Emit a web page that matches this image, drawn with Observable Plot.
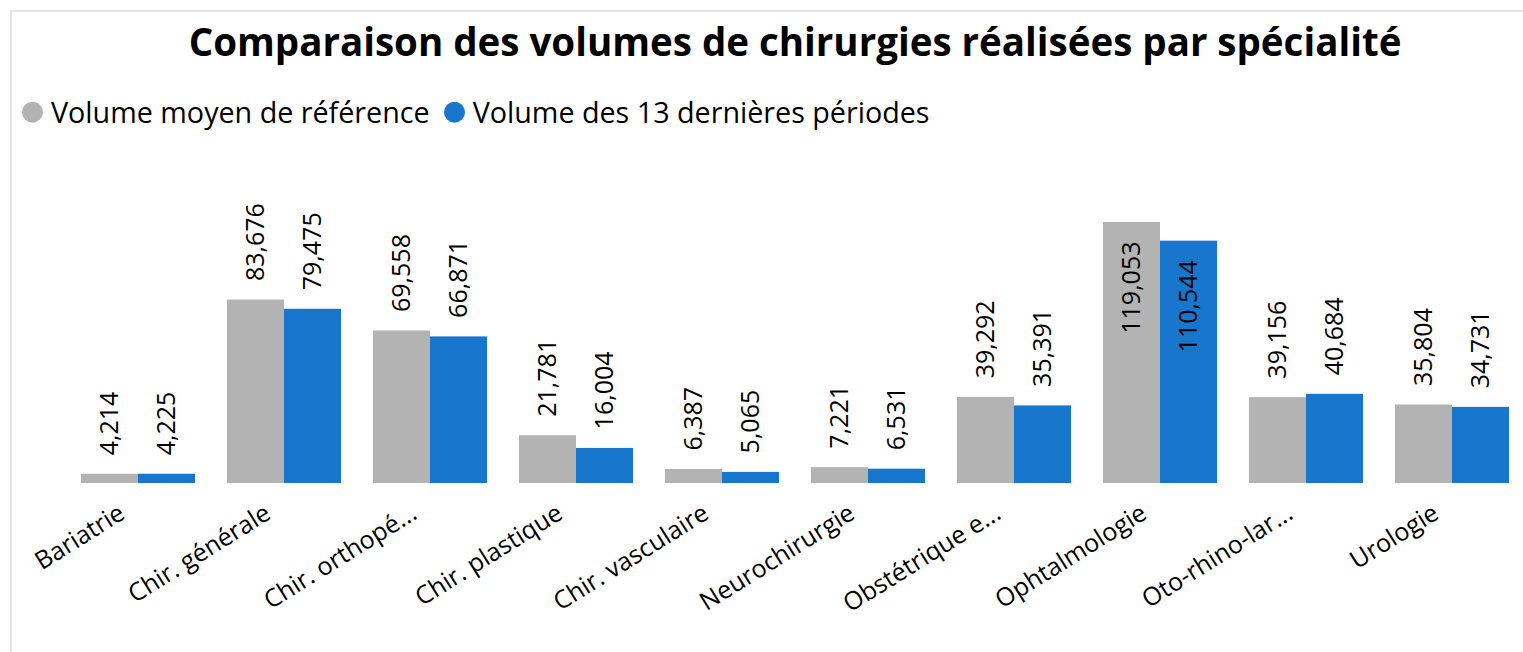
<!DOCTYPE html>
<html><head><meta charset="utf-8">
<script src="https://cdn.jsdelivr.net/npm/d3@7"></script>
<script src="https://cdn.jsdelivr.net/npm/@observablehq/plot@0.6"></script>
<style>
body{margin:0;width:1523px;height:652px;overflow:hidden;background:#fff;font-family:"Open Sans",sans-serif;position:relative;}
#frame{position:absolute;left:10px;top:10px;width:1513px;height:642px;border-left:2px solid #e6e6e6;border-top:2px solid #e6e6e6;box-sizing:border-box;}
#title{position:absolute;top:42px;left:0;width:1590px;text-align:center;font-weight:bold;font-size:38.5px;line-height:1;color:#000;white-space:nowrap;transform:translateY(-52%);}
#legend{position:absolute;top:112px;left:22px;display:flex;align-items:center;font-size:28.7px;line-height:1;color:#000;white-space:nowrap;transform:translateY(-50%);}
.item{display:flex;align-items:center;margin-right:14px;}
.sw{display:inline-block;width:21px;height:21px;border-radius:50%;margin-right:8px;}
#chart{position:absolute;left:0;top:0;}
</style></head>
<body>
<div id="frame"></div>
<div id="chart"></div>
<div id="title"></div>
<div id="legend"></div>
<script>
const title = "Comparaison des volumes de chirurgies réalisées par spécialité";
const categories = ["Bariatrie","Chir. générale","Chir. orthopé...","Chir. plastique","Chir. vasculaire","Neurochirurgie","Obstétrique e...","Ophtalmologie","Oto-rhino-lar...","Urologie"];
const series = ["Volume moyen de référence","Volume des 13 dernières périodes"];
const reference = [4214,83676,69558,21781,6387,7221,39292,119053,39156,35804];
const recent = [4225,79475,66871,16004,5065,6531,35391,110544,40684,34731];
const colors = ["#b3b3b3","#1877cc"];

const data = categories.flatMap((c,i)=>[
  {category:c, series:series[0], value:reference[i]},
  {category:c, series:series[1], value:recent[i]}
]);
const maxV = d3.max(data, d=>d.value);
const fmt = d3.format(",");
const inside = d => d.value > 0.85*maxV;

document.getElementById("title").textContent = title;
const legend = document.getElementById("legend");
series.forEach((s,i)=>{
  const it = document.createElement("div"); it.className="item";
  const sw = document.createElement("span"); sw.className="sw"; sw.style.background=colors[i];
  const tx = document.createElement("span"); tx.textContent=s;
  it.appendChild(sw); it.appendChild(tx); legend.appendChild(it);
});

const chart = Plot.plot({
  width:1523, height:652,
  marginTop:222, marginBottom:169, marginLeft:80, marginRight:14,
  style:{fontFamily:"Open Sans", fontSize:"22px", background:"transparent", color:"#000"},
  fx:{domain:categories, paddingInner:0.22, paddingOuter:0, axis:null, label:null},
  x:{domain:series, padding:0, axis:null},
  y:{domain:[0,maxV], axis:null},
  color:{domain:series, range:colors},
  marks:[
    Plot.barY(data,{fx:"category", x:"series", y:"value", fill:"series"}),
    Plot.text(data.filter(d=>!inside(d)),{fx:"category", x:"series", y:"value", text:d=>fmt(d.value), rotate:-90, textAnchor:"start", dy:-19, fontSize:25, fill:"#000"}),
    Plot.text(data.filter(inside),{fx:"category", x:"series", y:"value", text:d=>fmt(d.value), rotate:-90, textAnchor:"end", dy:19, fontSize:25, fill:"#000"}),
    Plot.text(categories,{fx:d=>d, text:d=>d, frameAnchor:"bottom", rotate:-32, textAnchor:"end", dx:-12, dy:34, fontSize:25, fill:"#000"})
  ]
});
document.getElementById("chart").appendChild(chart);
</script>
</body></html>
